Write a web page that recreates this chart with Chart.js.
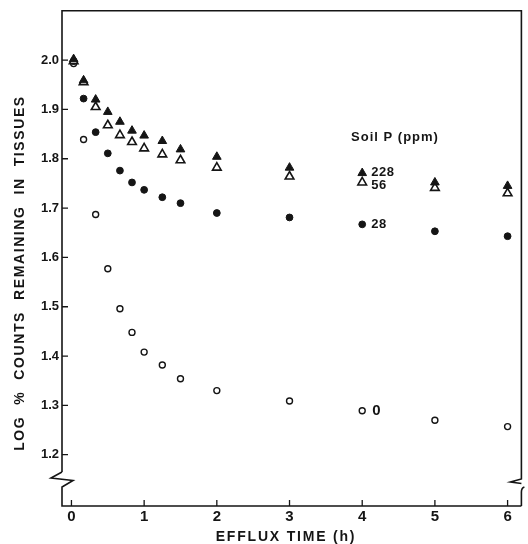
<!DOCTYPE html>
<html>
<head>
<meta charset="utf-8">
<script src="https://cdn.jsdelivr.net/npm/chart.js@4"></script>
<style>
  body { margin: 0; background: #fff; }
  #box { width: 528px; height: 544px; }
</style>
</head>
<body>
<div id="box"><canvas id="efflux" width="528" height="544"></canvas></div>
<script>
// efflux time (h) and log % counts remaining, one list per soil P level
const time = [0.03, 0.167, 0.333, 0.5, 0.667, 0.833, 1, 1.25, 1.5, 2, 3, 4, 5, 6];
const p228 = [2.002, 1.959, 1.920, 1.895, 1.875, 1.857, 1.847, 1.836, 1.819, 1.804, 1.782, 1.771, 1.752, 1.745];
const p56 = [1.998, 1.955, 1.905, 1.868, 1.848, 1.834, 1.821, 1.809, 1.797, 1.782, 1.764, 1.752, 1.741, 1.730];
const p28 = [1.998, 1.922, 1.854, 1.811, 1.776, 1.752, 1.737, 1.722, 1.710, 1.690, 1.681, 1.667, 1.653, 1.643];
const p0 = [1.993, 1.839, 1.687, 1.577, 1.496, 1.448, 1.408, 1.382, 1.354, 1.330, 1.309, 1.289, 1.270, 1.257];

const xTicks = [0, 1, 2, 3, 4, 5, 6];
const yTicks = [1.2, 1.3, 1.4, 1.5, 1.6, 1.7, 1.8, 1.9, 2.0];
const seriesNames = ['228', '56', '28', '0'];

const FONT = '"Liberation Sans", Arial, sans-serif';
const INK = '#151515';

function pts(ys) {
  return time.map((t, i) => ({ x: t, y: ys[i] }));
}

// frame with the axis breaks, inside ticks, titles and series labels
const framePlugin = {
  id: 'frame',
  afterDraw(chart) {
    const ctx = chart.ctx;
    const a = chart.chartArea;
    const xs = chart.scales.x, ys = chart.scales.y;
    const b = a.bottom;
    ctx.save();
    ctx.strokeStyle = INK;
    ctx.lineWidth = 1.6;
    ctx.lineJoin = 'miter';

    // left axis, top, right axis
    ctx.beginPath();
    ctx.moveTo(a.left, b - 34);
    ctx.lineTo(a.left, a.top);
    ctx.lineTo(a.right, a.top);
    ctx.lineTo(a.right, b - 27);
    ctx.lineTo(a.right - 11, b - 24);
    ctx.lineTo(a.right, b - 22.5);
    ctx.stroke();

    // left break
    ctx.beginPath();
    ctx.moveTo(a.left, b - 34);
    ctx.lineTo(a.left - 11, b - 28);
    ctx.lineTo(a.left + 11, b - 25.5);
    ctx.lineTo(a.left, b - 19);
    ctx.lineTo(a.left, b);
    ctx.lineTo(a.right, b);
    ctx.stroke();

    // right break lower part
    ctx.beginPath();
    ctx.moveTo(a.right + 3, b - 19);
    ctx.quadraticCurveTo(a.right, b - 18, a.right, b - 14);
    ctx.lineTo(a.right, b);
    ctx.stroke();

    // ticks point into the plot
    ctx.lineWidth = 1.3;
    ctx.beginPath();
    xs.ticks.forEach(t => {
      const px = xs.getPixelForValue(t.value);
      ctx.moveTo(px, b);
      ctx.lineTo(px, b - 6);
    });
    ys.ticks.forEach(t => {
      const py = ys.getPixelForValue(t.value);
      ctx.moveTo(a.left, py);
      ctx.lineTo(a.left + 6, py);
    });
    ctx.stroke();

    ctx.fillStyle = INK;

    // x title
    ctx.font = 'bold 14px ' + FONT;
    ctx.letterSpacing = '1.8px';
    ctx.textAlign = 'center';
    ctx.textBaseline = 'alphabetic';
    ctx.fillText('EFFLUX TIME (h)', 286, 541);

    // y title
    ctx.save();
    ctx.translate(24, 273);
    ctx.rotate(-Math.PI / 2);
    ctx.letterSpacing = '1.6px';
    ctx.fillText('LOG  %  COUNTS  REMAINING  IN  TISSUES', 0, 0);
    ctx.restore();

    // series labels next to the 4 h points
    ctx.font = 'bold 13px ' + FONT;
    ctx.letterSpacing = '1px';
    ctx.textAlign = 'center';
    ctx.textBaseline = 'middle';
    ctx.fillText('Soil P (ppm)', 395, 137);

    const x4 = xs.getPixelForValue(4) + 9;
    ctx.textAlign = 'left';
    ctx.letterSpacing = '0.5px';
    ctx.fillText(seriesNames[0], x4, ys.getPixelForValue(p228[11]) - 1);
    ctx.fillText(seriesNames[1], x4, ys.getPixelForValue(p56[11]) + 3);
    ctx.fillText(seriesNames[2], x4, ys.getPixelForValue(p28[11]));
    ctx.font = 'bold 15px ' + FONT;
    ctx.fillText(seriesNames[3], x4 + 1, ys.getPixelForValue(p0[11]));
    ctx.restore();
  }
};

new Chart(document.getElementById('efflux'), {
  type: 'scatter',
  data: {
    datasets: [
      { label: seriesNames[0], data: pts(p228), pointStyle: 'triangle', pointRadius: 5,
        backgroundColor: INK, borderColor: INK, borderWidth: 1 },
      { label: seriesNames[1], data: pts(p56), pointStyle: 'triangle', pointRadius: 5,
        backgroundColor: '#fff', borderColor: INK, borderWidth: 1.6 },
      { label: seriesNames[2], data: pts(p28), pointStyle: 'circle', pointRadius: 3.4,
        backgroundColor: INK, borderColor: INK, borderWidth: 1 },
      { label: seriesNames[3], data: pts(p0), pointStyle: 'circle', pointRadius: 3,
        backgroundColor: '#fff', borderColor: INK, borderWidth: 1.4 }
    ]
  },
  options: {
    responsive: false,
    animation: false,
    layout: { padding: { left: 0, top: 9, right: 3, bottom: 0 } },
    plugins: { legend: { display: false }, tooltip: { enabled: false } },
    scales: {
      x: {
        type: 'linear',
        min: -0.13,
        max: 6.19,
        afterBuildTicks: s => { s.ticks = xTicks.map(v => ({ value: v })); },
        afterFit: s => { s.height = 38; },
        grid: { display: false, drawTicks: false },
        border: { display: false },
        ticks: { color: INK, padding: 2, font: { family: FONT, size: 15, weight: 'bold' }, callback: v => String(v) }
      },
      y: {
        min: 1.096,
        max: 2.1,
        afterBuildTicks: s => { s.ticks = yTicks.map(v => ({ value: v })); },
        afterFit: s => { s.width = 62; },
        grid: { display: false, drawTicks: false },
        border: { display: false },
        ticks: { color: INK, padding: 3, font: { family: FONT, size: 13, weight: 'bold' }, callback: v => v.toFixed(1) }
      }
    }
  },
  plugins: [framePlugin]
});
</script>
</body>
</html>
